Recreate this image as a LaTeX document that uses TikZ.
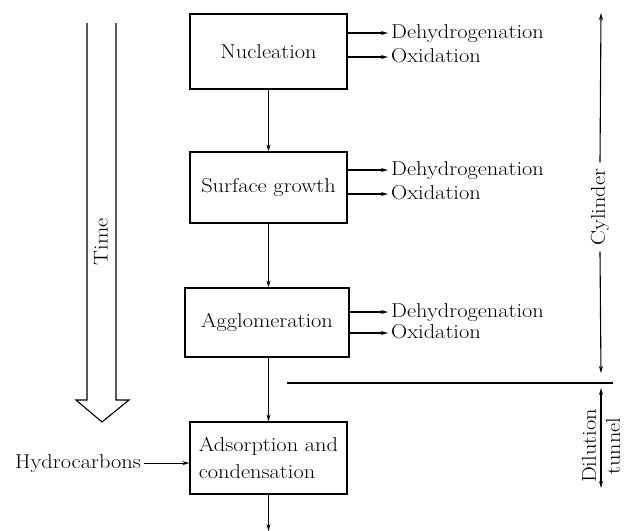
\documentclass[tikz,border=0pt]{standalone}
\usepackage{fontspec}
\setmainfont{Latin Modern Roman}[FakeStretch=1.12]
\usetikzlibrary{arrows.meta}
\begin{document}
\begin{tikzpicture}[x=1pt,y=-1pt,
  every node/.style={font=\fontsize{20}{24}\selectfont},
  box/.style={draw, line width=1.2pt, inner sep=0pt, align=center},
  lbl/.style={inner sep=0pt},
  arr/.style={line width=1.1pt, -{Stealth[length=7pt,width=4pt]}},
  conn/.style={line width=1.1pt}]
\useasboundingbox (0,0) rectangle (625,531);
% boxes
\node[box, minimum width=157pt, minimum height=75pt] (nuc) at (268.5,51.5) {Nucleation};
\node[box, minimum width=157pt, minimum height=71pt] (sg) at (268.5,187.5) {Surface growth};
\node[box, minimum width=164pt, minimum height=69pt] (agg) at (267,322.5) {Agglomeration};
\node[box, minimum width=157pt, minimum height=72pt, align=left] (ads) at (268.5,458) {Adsorption and\\[3pt]condensation};
% vertical flow
\draw[arr] (nuc.south) -- (sg.north);
\draw[arr] (sg.south) -- (sg.south |- agg.north);
\draw[arr] (ads.north |- agg.south) -- (ads.north);
\coordinate (out) at (268.5,531);
\draw[arr] (ads.south) -- (out);
% side labels
\node[lbl, anchor=base west] (d1) at (391,38) {Dehydrogenation};
\node[lbl, anchor=base west] (o1) at (391,62) {Oxidation};
\node[lbl, anchor=base west] (d2) at (391,175) {Dehydrogenation};
\node[lbl, anchor=base west] (o2) at (391,199) {Oxidation};
\node[lbl, anchor=base west] (d3) at (391,317) {Dehydrogenation};
\node[lbl, anchor=base west] (o3) at (391,338) {Oxidation};
\draw[arr] (nuc.east |- 0,33) -- (388,33) coordinate (d1a);
\draw[arr] (nuc.east |- 0,57) -- (388,57) coordinate (o1a);
\draw[arr] (sg.east |- 0,170) -- (388,170) coordinate (d2a);
\draw[arr] (sg.east |- 0,194) -- (388,194) coordinate (o2a);
\draw[arr] (agg.east |- 0,312) -- (388,312) coordinate (d3a);
\draw[arr] (agg.east |- 0,333) -- (388,333) coordinate (o3a);
% time arrow
\draw[line width=1.1pt, line join=miter] (87,23) -- (87,400) -- (76,400) -- (102,422) -- (129,400) -- (116,400) -- (116,23);
\node[lbl, rotate=90] (time) at (101,242) {Time};
% hydrocarbons
\node[lbl, anchor=base east] (hyd) at (141,468) {Hydrocarbons};
\draw[arr] ([xshift=3pt]hyd.east) -- (hyd.east -| ads.west);
% cylinder
\coordinate (ctop) at (601,13);
\coordinate (cbot) at (601,373);
\node[rotate=90, inner xsep=6pt, inner ysep=0pt] (cyl) at (600,207) {Cylinder};
\draw[arr] (cyl.east) -- (ctop);
\draw[arr] (cyl.west) -- (cbot);
% separation line
\coordinate (h1) at (287,383);
\coordinate (h2) at (613,383);
\draw[conn] (h1) -- (h2);
% dilution tunnel
\coordinate (dtop) at (601,388);
\coordinate (dbot) at (601,488);
\draw[line width=1.1pt, {Stealth[length=7pt,width=4pt]}-{Stealth[length=7pt,width=4pt]}] (dtop) -- (dbot);
\node[lbl, rotate=90] (dil) at (589,446) {Dilution};
\node[lbl, rotate=90] (tun) at (613,446) {tunnel};
\end{tikzpicture}
\end{document}
